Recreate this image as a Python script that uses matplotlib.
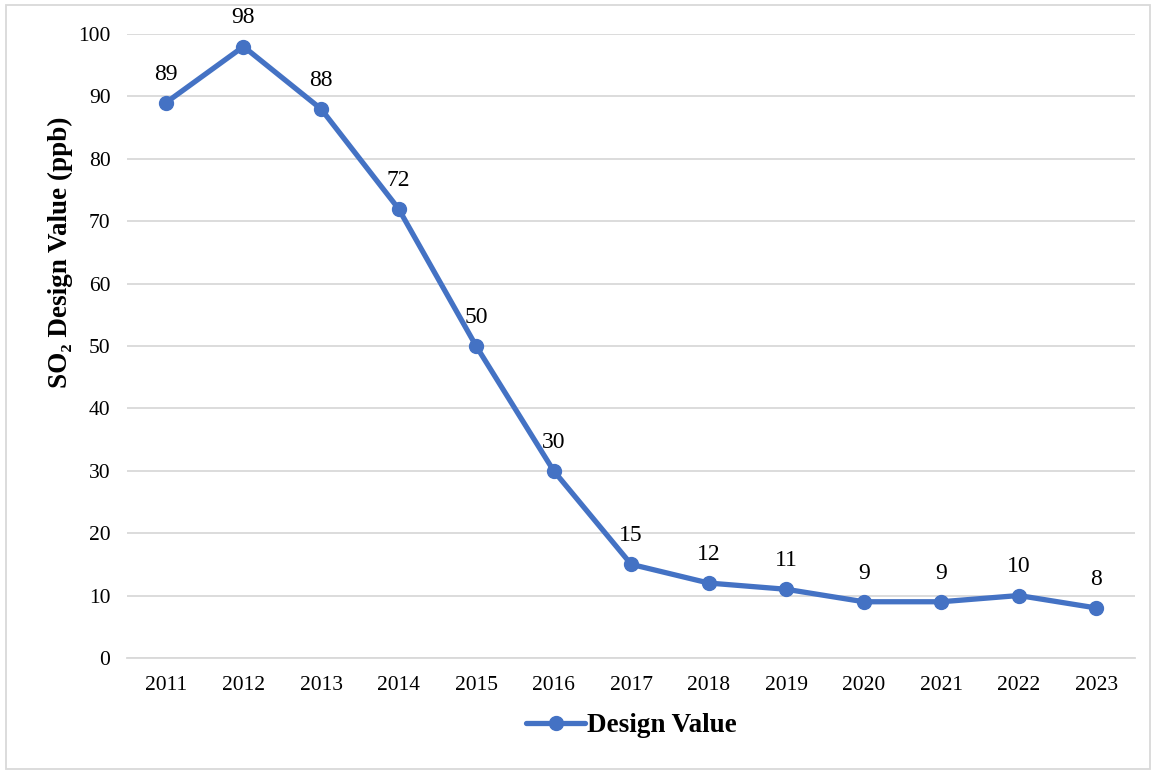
import matplotlib.pyplot as plt
from matplotlib.patches import Rectangle

plt.rcParams['font.family'] = ['Liberation Serif', 'DejaVu Serif']

years = ['2011', '2012', '2013', '2014', '2015', '2016', '2017',
         '2018', '2019', '2020', '2021', '2022', '2023']
design_value = [89, 98, 88, 72, 50, 30, 15, 12, 11, 9, 9, 10, 8]

line_color = '#4472C4'
grid_color = '#D9D9D9'

fig = plt.figure(figsize=(11.56, 7.74), dpi=100)
ax = fig.add_axes([0.110, 0.150, 0.872, 0.806])

x = list(range(len(years)))
ax.plot(x, design_value, color=line_color, linewidth=3.8, marker='o',
        markersize=10, label='Design Value', solid_capstyle='round', zorder=3)

for xi, v in zip(x, design_value):
    ax.annotate(str(v), (xi, v), xytext=(0, 13), textcoords='offset points',
                ha='center', va='bottom', fontsize=17)

ax.set_xlim(-0.5, len(years) - 0.5)
ax.set_ylim(0, 100)
ax.set_yticks(range(0, 101, 10))
ax.set_xticks(x)
ax.set_xticklabels(years)
ax.tick_params(axis='both', length=0, labelsize=15.5)
ax.tick_params(axis='y', pad=12)
ax.tick_params(axis='x', pad=13)
ax.grid(axis='y', color=grid_color, linewidth=1.3)
ax.set_axisbelow(True)
for s in ['top', 'right', 'left']:
    ax.spines[s].set_visible(False)
ax.spines['bottom'].set_color(grid_color)
ax.spines['bottom'].set_linewidth(1.3)

ax.set_ylabel('SO₂ Design Value (ppb)', fontsize=19.5, fontweight='bold')
ax.yaxis.set_label_coords(-0.054, 0.65)

leg = ax.legend(loc='upper center', bbox_to_anchor=(0.5, -0.05), frameon=False,
                prop={'size': 19.5, 'weight': 'bold'}, handlelength=2.2,
                handletextpad=0.05)

fig.patches.append(Rectangle((0.005, 0.007), 0.99, 0.986, transform=fig.transFigure,
                             fill=False, edgecolor='#D9D9D9', linewidth=1.3))

fig.savefig('out.png', dpi=100)
